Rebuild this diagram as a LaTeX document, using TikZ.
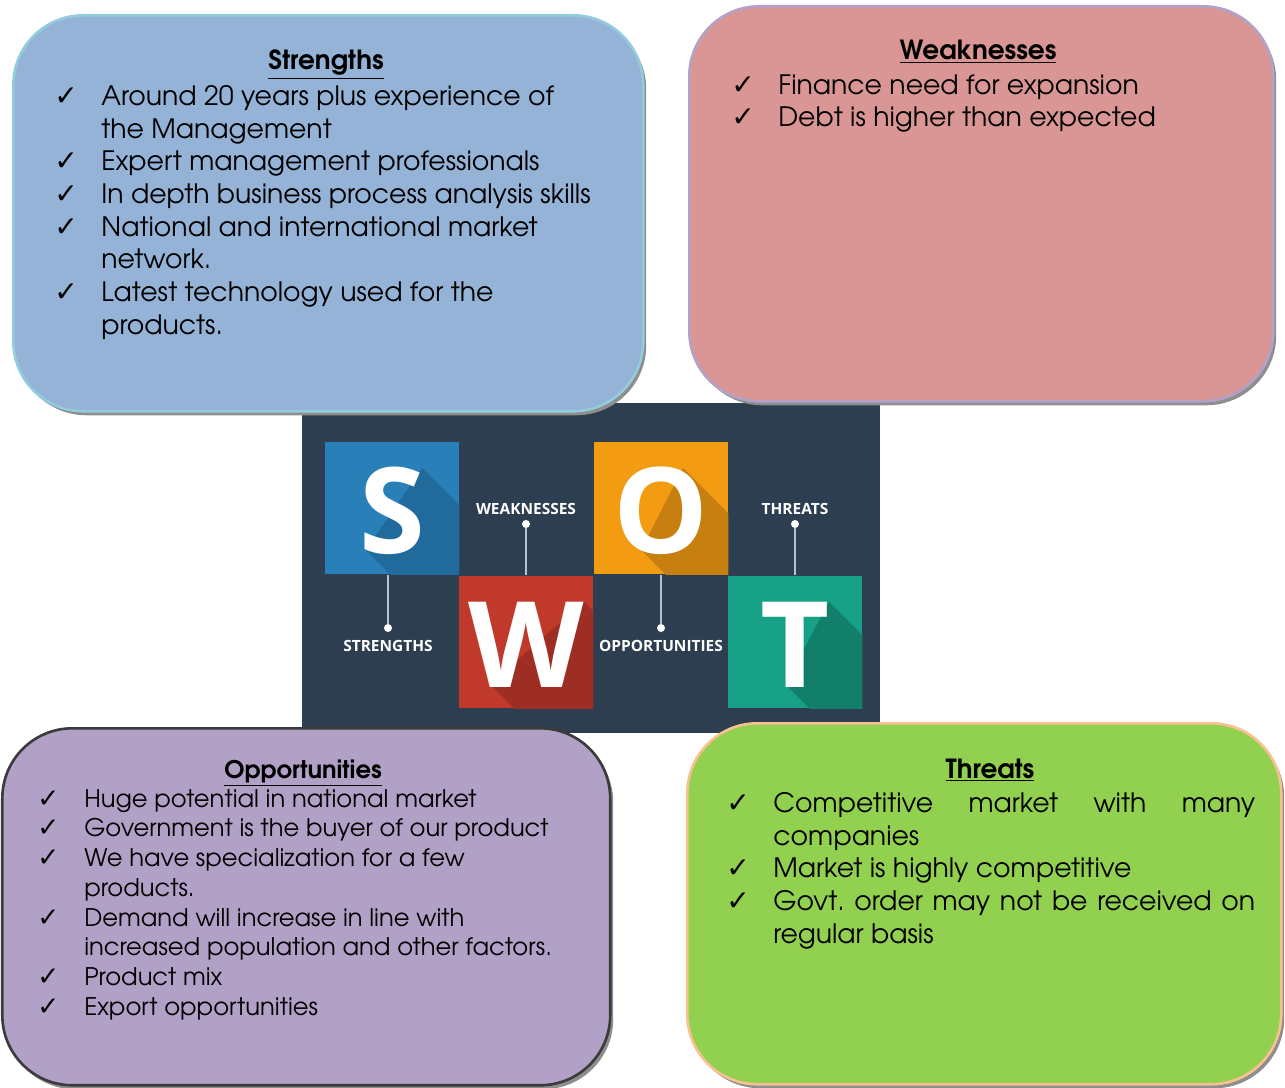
\documentclass[tikz,border=0pt]{standalone}
\usepackage{fontspec}
\setmainfont{TeX Gyre Adventor}
\newfontfamily\checkfont{DejaVu Sans}
\newfontfamily\swotfont{Open Sans}
\usetikzlibrary{positioning}
\frenchspacing

\definecolor{strfill}{HTML}{95B3D7}
\definecolor{strline}{HTML}{93CDDD}
\definecolor{weakfill}{HTML}{D99694}
\definecolor{weakline}{HTML}{B3A2C7}
\definecolor{oppfill}{HTML}{B2A1C7}
\definecolor{oppline}{HTML}{3B3B3B}
\definecolor{thrfill}{HTML}{92D050}
\definecolor{thrline}{HTML}{FAC090}
\definecolor{boxshade}{HTML}{8E8E8E}
\definecolor{slate}{HTML}{2C3E50}
\definecolor{tileS}{HTML}{2980B9}
\definecolor{tileSdark}{HTML}{216A9C}
\definecolor{tileW}{HTML}{C0392B}
\definecolor{tileWdark}{HTML}{9E2E23}
\definecolor{tileO}{HTML}{F39C12}
\definecolor{tileOdark}{HTML}{C77F10}
\definecolor{tileT}{HTML}{16A085}
\definecolor{tileTdark}{HTML}{127F6A}
\definecolor{pinline}{HTML}{B8C2CC}

\newcommand{\chk}{\makebox[0.94cm][l]{\checkfont\fontsize{16}{16}\selectfont ✓}}
\newcommand{\chks}{\makebox[0.94cm][l]{\checkfont\fontsize{15}{15}\selectfont ✓}}
\newcommand{\ind}{\hspace*{0.94cm}}

\tikzset{
  quadbox/.style={rounded corners=1.4cm, line width=1.5pt, inner sep=0pt, anchor=north west},
  quadshade/.style={fill=boxshade, rounded corners=1.4cm, inner sep=0pt, anchor=north west},
  quadtitle/.style={inner sep=0pt, anchor=base, font=\bfseries\fontsize{15}{18}\selectfont},
  biglist/.style={inner sep=0pt, anchor=north west, align=left, font=\fontsize{15.2}{18.6}\selectfont},
  smalllist/.style={inner sep=0pt, anchor=north west, align=left, font=\fontsize{13.8}{16.9}\selectfont},
  tile/.style={minimum width=2.68cm, minimum height=2.66cm, inner sep=0pt},
  tileletter/.style={text=white, font=\swotfont\bfseries\fontsize{68}{68}\selectfont, inner sep=0pt},
  pinlabel/.style={text=white, font=\swotfont\bfseries\fontsize{8.8}{10}\selectfont, inner sep=0pt},
  pindot/.style={circle, fill=white, inner sep=0pt, minimum size=0.16cm},
  pinwire/.style={pinline, line width=0.8pt}
}

\begin{document}
\begin{tikzpicture}[x=0.02cm, y=-0.02cm]
\useasboundingbox (0,0) rectangle (1285,1088);

% SWOT picture in the middle
\fill[slate] (302,403) rectangle (880,733);
\foreach \cx/\cy/\hwt/\hwb/\col/\dk/\name in {392/508/30/26/tileS/tileSdark/S, 526/642/58/36/tileW/tileWdark/W, 661/508/22/20/tileO/tileOdark/O, 795/642/34/10/tileT/tileTdark/T}{
  \node[tile, fill=\col] (tile\name) at (\cx,\cy) {};
  \begin{scope}
    \clip (tile\name.north west) rectangle (tile\name.south east);
    \fill[\dk] (\cx+\hwt,\cy-40) -- ++(150,150) -- (\cx-\hwb+150,\cy+192) -- (\cx-\hwb,\cy+42) -- cycle;
  \end{scope}
  \node[tileletter] (letter\name) at (\cx,\cy+3) {\name};
}

% pins
\node[pinlabel] (labW) at (526,509) {WEAKNESSES};
\node[pindot] (dotW) at (526,524) {};
\draw[pinwire] (dotW) -- (dotW |- tileW.north);
\node[pinlabel] (labT) at (795,509) {THREATS};
\node[pindot] (dotT) at (795,524) {};
\draw[pinwire] (dotT) -- (dotT |- tileT.north);
\node[pinlabel] (labS) at (388,646) {STRENGTHS};
\node[pindot] (dotS) at (388,628) {};
\draw[pinwire] (dotS) -- (dotS |- tileS.south);
\node[pinlabel] (labO) at (661,646) {OPPORTUNITIES};
\node[pindot] (dotO) at (661,628) {};
\draw[pinwire] (dotO) -- (dotO |- tileO.south);

% Strengths
\node[quadshade, minimum width=12.6cm, minimum height=7.92cm] (strshade) at (16,19) {};
\node[quadbox, fill=strfill, draw=strline, minimum width=12.6cm, minimum height=7.92cm] (strengths) at (12,14) {};
\node[quadtitle] (strtitle) at (326,70) {\underline{Strengths}};
\node[biglist] (strlist) at (54,85) {\chk Around 20 years plus experience of\\
  \ind the Management\\
  \chk Expert management professionals\\
  \chk In depth business process analysis skills\\
  \chk National and international market\\
  \ind network.\\
  \chk Latest technology used for the\\
  \ind products.};

% Weaknesses
\node[quadshade, minimum width=11.68cm, minimum height=7.9cm] (weakshade) at (692,10) {};
\node[quadbox, fill=weakfill, draw=weakline, minimum width=11.68cm, minimum height=7.9cm] (weaknesses) at (688,5) {};
\node[quadtitle] (weaktitle) at (978,60) {\underline{Weaknesses}};
\node[biglist] (weaklist) at (731,74) {\chk Finance need for expansion\\
  \chk Debt is higher than expected};

% Opportunities
\node[quadshade, minimum width=12.16cm, minimum height=7.14cm] (oppshade) at (5,732) {};
\node[quadbox, fill=oppfill, draw=oppline, minimum width=12.16cm, minimum height=7.14cm] (opportunities) at (1,727) {};
\node[quadtitle, font=\bfseries\fontsize{13.8}{16}\selectfont] (opptitle) at (303,778) {\underline{Opportunities}};
\node[smalllist] (opplist) at (37,789) {\chks Huge potential in national market\\
  \chks Government is the buyer of our product\\
  \chks We have specialization for a few\\
  \ind products.\\
  \chks Demand will increase in line with\\
  \ind increased population and other factors.\\
  \chks Product mix\\
  \chks Export opportunities};

% Threats
\node[quadshade, minimum width=11.88cm, minimum height=7.22cm] (thrshade) at (690,727) {};
\node[quadbox, fill=thrfill, draw=thrline, minimum width=11.88cm, minimum height=7.22cm] (threats) at (686,722) {};
\node[quadtitle] (thrtitle) at (990,778) {\underline{Threats}};
\node[biglist] (thrlist) at (726,792) {\chk\makebox[9.64cm][s]{Competitive market with many}\\
  \ind companies\\
  \chk Market is highly competitive\\
  \chk\makebox[9.64cm][s]{Govt. order may not be received on}\\
  \ind regular basis};
\end{tikzpicture}
\end{document}
